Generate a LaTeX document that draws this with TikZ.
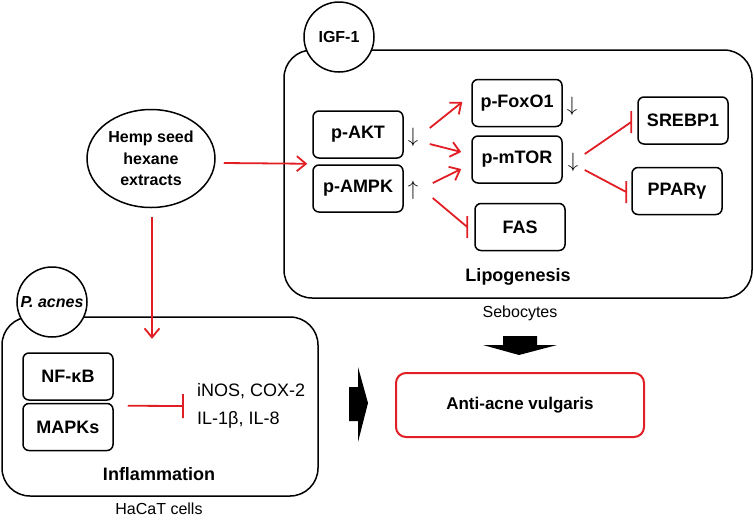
\documentclass[tikz,border=0pt]{standalone}
\usepackage{fontspec}
\setmainfont{Liberation Sans}
\usetikzlibrary{arrows.meta,shapes.geometric}
\definecolor{arrred}{RGB}{225,30,35}

\begin{document}
\begin{tikzpicture}[x=1pt,y=-1pt,>={Straight Barb[length=9pt,width=15pt]},
  main node/.style={draw,rounded corners=6pt,line width=1.5pt,minimum width=90pt,
    minimum height=47pt,inner sep=0pt,font=\fontsize{18}{20}\selectfont\bfseries},
  cell box/.style={draw,rounded corners=28pt,line width=1.5pt},
  ring node/.style={draw,circle,fill=white,minimum size=70pt,inner sep=0pt,line width=1.5pt,
    font=\fontsize{16}{18}\selectfont\bfseries},
  arr node/.style={inner sep=0pt,font=\fontsize{20}{22}\selectfont},
  stim/.style={->,draw=arrred,line width=1.8pt},
  block/.style={draw=arrred,line width=1.8pt}]
  \useasboundingbox (0,0) rectangle (754,520);
  % cells
  \draw[cell box] (284,50) rectangle (752,298);
  \draw[cell box] (2,317) rectangle (318,496);
  \node[ring node] (igf) at (339,37)  {IGF-1};
  \node[ring node] (pac) at (52,302)  {\itshape P. acnes};
  % sebocytes
  \node[main node] (akt)   at (358,134.5) {p-AKT};
  \node[main node] (ampk)  at (358,188.5) {p-AMPK};
  \node[main node] (foxo)  at (517,103)   {p-FoxO1};
  \node[main node] (mtor)  at (517,159.5) {p-mTOR};
  \node[main node] (fas)   at (520,227)   {FAS};
  \node[main node] (srebp) at (683,120.5) {SREBP1};
  \node[main node] (ppar)  at (677,191)   {PPARγ};
  \node[arr node] (aktdn)  at (413,137.5) {$\downarrow$};
  \node[arr node] (ampkup) at (413,190)   {$\uparrow$};
  \node[arr node] (foxodn) at (572,106)   {$\downarrow$};
  \node[arr node] (mtordn) at (573,162)   {$\downarrow$};
  \node[font=\fontsize{18}{20}\selectfont\bfseries] (lipo) at (518,277) {Lipogenesis};
  \node[font=\fontsize{16}{18}\selectfont] (sebo) at (520,313) {Sebocytes};
  % HaCaT
  \node[main node] (nfkb) at (68,376.5) {NF-κB};
  \node[main node] (mapk) at (68,427)   {MAPKs};
  \node[anchor=west,align=left,inner sep=0pt,font=\fontsize{18}{28}\selectfont] (cyto)
    at (197,406) {iNOS, COX-2\\IL-1β, IL-8};
  \node[font=\fontsize{18}{20}\selectfont\bfseries] (infl) at (159,474) {Inflammation};
  \node[font=\fontsize{16}{18}\selectfont] (hacat) at (159,509) {HaCaT cells};
  % extract and outcome
  \node[draw,ellipse,minimum width=128pt,minimum height=98pt,inner sep=0pt,line width=1.5pt,
    align=center,font=\fontsize{16}{21.5}\selectfont\bfseries] (hemp) at (151,158.5)
    {Hemp seed\\hexane\\extracts};
  \node[draw=arrred,rounded corners=10pt,line width=2pt,minimum width=248pt,minimum height=64pt,
    font=\fontsize{17}{20}\selectfont\bfseries] (acne) at (520,405) {Anti-acne vulgaris};
  % connectors
  \draw[stim] ([xshift=8pt,yshift=-4.5pt]hemp.east) -- ([xshift=-5pt,yshift=-5pt]akt.south west);
  \draw[stim] ([xshift=1pt,yshift=-9pt]hemp.south) -- ([xshift=1pt,yshift=-130.5pt]hemp.south);
  \draw[stim] ([xshift=26pt,yshift=6.5pt]akt.east) -- ([xshift=-9pt,yshift=1pt]foxo.west);
  \draw[stim] ([xshift=26pt,yshift=-9.5pt]akt.east) -- ([xshift=-10pt,yshift=7.5pt]mtor.west);
  \draw[stim] ([xshift=29pt,yshift=5.5pt]ampk.east) -- ([xshift=-10pt,yshift=-9.5pt]mtor.west);
  \draw[block] ([xshift=29pt,yshift=-9.5pt]ampk.east) -- ([xshift=-7pt]fas.west) ++(0,-11) -- ++(0,22);
  \draw[block] ([xshift=22pt,yshift=5.5pt]mtor.east) -- ([xshift=-6pt,yshift=-1.5pt]srebp.west) ++(0,-11) -- ++(0,22);
  \draw[block] ([xshift=22pt,yshift=-10.5pt]mtor.east) -- ([xshift=-5pt,yshift=-1pt]ppar.west) ++(0,-11) -- ++(0,22);
  \draw[block] ([xshift=14pt,yshift=-3pt]mapk.north east) -- ([xshift=-14pt]cyto.west) ++(0,-12) -- ++(0,24);
  % big arrows
  \fill (503,336) -- (537,336) -- (537,345) -- (557,345) -- (519,355) -- (483,345) -- (503,345) -- cycle;
  \fill (349,387) -- (358,387) -- (358,367) -- (368,403) -- (358,442) -- (358,421) -- (349,421) -- cycle;
\end{tikzpicture}
\end{document}
